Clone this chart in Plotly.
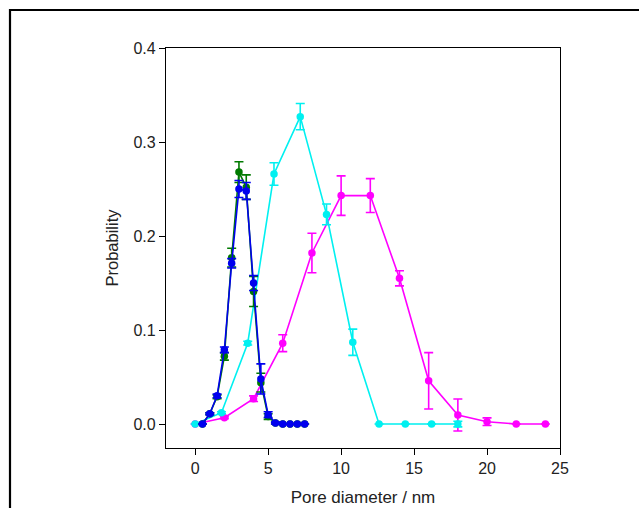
import plotly.graph_objects as go

# Data
blue_x = [0.5, 1.0, 1.5, 2.0, 2.5, 3.0, 3.5, 4.0, 4.5, 5.0, 5.5, 6.0, 6.5, 7.0, 7.5]
blue_y = [0.0, 0.011, 0.030, 0.079, 0.171, 0.250, 0.248, 0.150, 0.048, 0.010, 0.001, 0.0, 0.0, 0.0, 0.0]
blue_e = [0.0, 0.001, 0.002, 0.003, 0.005, 0.009, 0.009, 0.008, 0.016, 0.003, 0.001, 0.0, 0.0, 0.0, 0.0]

green_x = [0.5, 1.0, 1.5, 2.0, 2.5, 3.0, 3.5, 4.0, 4.5, 5.0, 5.5, 6.0, 6.5, 7.0, 7.5]
green_y = [0.0, 0.011, 0.029, 0.072, 0.177, 0.268, 0.252, 0.141, 0.044, 0.008, 0.001, 0.0, 0.0, 0.0, 0.0]
green_e = [0.0, 0.001, 0.002, 0.004, 0.010, 0.011, 0.013, 0.016, 0.010, 0.003, 0.001, 0.0, 0.0, 0.0, 0.0]

cyan_x = [0.0, 1.8, 3.6, 5.4, 7.2, 9.0, 10.8, 12.6, 14.4, 16.2, 18.0]
cyan_y = [0.0, 0.012, 0.086, 0.266, 0.327, 0.223, 0.087, 0.0, 0.0, 0.0, 0.0]
cyan_e = [0.0, 0.001, 0.002, 0.012, 0.014, 0.011, 0.014, 0.0, 0.0, 0.0, 0.003]

mag_x = [0, 2, 4, 6, 8, 10, 12, 14, 16, 18, 20, 22, 24]
mag_y = [0.0, 0.0067, 0.027, 0.086, 0.182, 0.243, 0.243, 0.155, 0.046, 0.0096, 0.0025, 0.0, 0.0]
mag_e = [0.0, 0.001, 0.003, 0.009, 0.021, 0.021, 0.018, 0.008, 0.030, 0.017, 0.004, 0.0, 0.0]

x_ticks = [0, 5, 10, 15, 20, 25]
y_ticks = [0.0, 0.1, 0.2, 0.3, 0.4]
y_tick_labels = ["0.0", "0.1", "0.2", "0.3", "0.4"]

series = [
    (mag_x, mag_y, mag_e, "#FF00FF"),
    (cyan_x, cyan_y, cyan_e, "#00F0F0"),
    (green_x, green_y, green_e, "#007A00"),
    (blue_x, blue_y, blue_e, "#0000EE"),
]

fig = go.Figure()
for xs, ys, es, col in series:
    fig.add_trace(go.Scatter(
        x=xs, y=ys, mode="lines+markers",
        line=dict(color=col, width=1.6),
        marker=dict(color=col, size=7.5, symbol="circle"),
        error_y=dict(type="data", array=es, visible=True, color=col, thickness=1.6, width=4.5),
        showlegend=False,
    ))

L, R, T, B = 166, 560, 48, 448
W, H = 639, 508
fig.update_layout(
    width=W, height=H,
    margin=dict(l=L, r=W - R, t=T, b=H - B, pad=0, autoexpand=False),
    paper_bgcolor="white", plot_bgcolor="white",
    font=dict(family="Liberation Sans, Arial, sans-serif", size=16, color="#222222"),
    xaxis=dict(
        range=[-2, 25], tickvals=x_ticks, ticks="outside", ticklen=6, tickwidth=1,
        tickcolor="black", showline=True, linecolor="black", linewidth=1.3, mirror=True,
        showgrid=False, zeroline=False, automargin=False,
        title=dict(text="Pore diameter / nm", standoff=14, font=dict(size=17)),
        tickfont=dict(size=16),
    ),
    yaxis=dict(
        range=[-0.0255, 0.4], tickvals=y_ticks, ticktext=y_tick_labels, ticks="outside",
        ticklen=6, tickwidth=1, tickcolor="black", showline=True, linecolor="black",
        linewidth=1.3, mirror=True, showgrid=False, zeroline=False, automargin=False,
        title=dict(text="Probability", standoff=10, font=dict(size=16.5)),
        tickfont=dict(size=16),
    ),
)

pw, ph = R - L, B - T
fig.add_shape(
    type="rect", xref="paper", yref="paper",
    x0=(10 - L) / pw, x1=(700 - L) / pw,
    y0=(B - 600) / ph, y1=(B - 10) / ph,
    line=dict(color="black", width=2.2), fillcolor="rgba(0,0,0,0)", layer="above",
)

fig.write_html("out.html")
